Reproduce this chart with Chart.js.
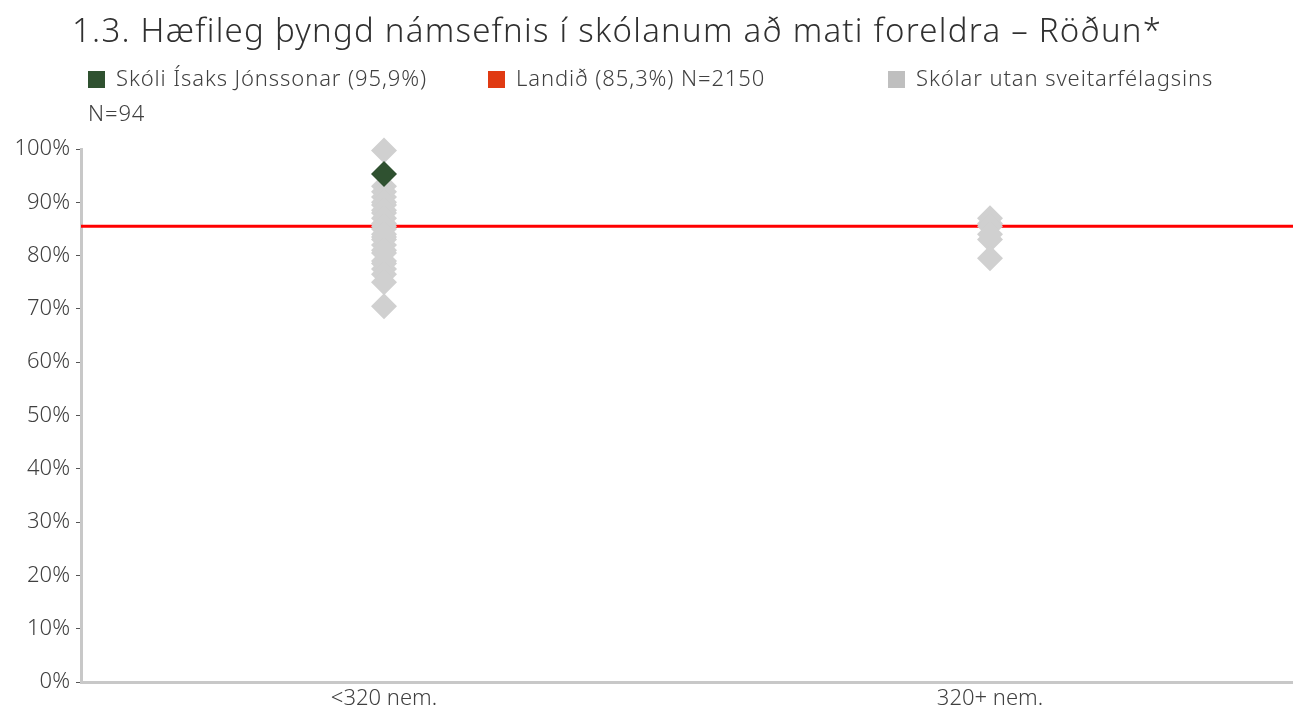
<!DOCTYPE html>
<html lang="is">
  <head>
    <meta charset="UTF-8" />
    <title>Hæfileg þyngd námsefnis</title>
    <script src="https://cdn.jsdelivr.net/npm/chart.js"></script>
    <style>
      body { margin: 0; font-family: "Noto Sans", sans-serif; font-weight: 300; color: #404040; background: #fff; }
      #wrap { position: relative; width: 1293px; height: 708px; overflow: hidden; }
      #title { position: absolute; left: 72px; top: 13px; font-size: 33px; letter-spacing: 1.25px; line-height: 1; color: #303030; white-space: nowrap; }
      .leg { position: absolute; top: 66px; font-size: 22px; letter-spacing: 0.9px; line-height: 1; color: #404040; white-space: nowrap; }
      .leg i { display: inline-block; width: 17px; height: 17px; margin-right: 11px; vertical-align: -2px; }
      #n94 { position: absolute; left: 88px; top: 101px; font-size: 22px; letter-spacing: 0.9px; line-height: 1; color: #404040; }
      canvas { position: absolute; left: 0; top: 0; }
    </style>
  </head>
  <body>
    <div id="wrap">
      <canvas id="chart" width="1293" height="708"></canvas>
      <div id="title">1.3. Hæfileg þyngd námsefnis í skólanum að mati foreldra – Röðun*</div>
      <div class="leg" style="left:88px"><i style="background:#2f5130"></i>Skóli Ísaks Jónssonar (95,9%)</div>
      <div class="leg" style="left:488px"><i style="background:#e03a12"></i>Landið (85,3%) N=2150</div>
      <div class="leg" style="left:888px"><i style="background:#bfbfbf"></i>Skólar utan sveitarfélagsins</div>
      <div id="n94">N=94</div>
    </div>

    <script>
      // categories (x positions 0.5 and 1.5 on a 0..2 axis)
      const categories = ['<320 nem.', '320+ nem.'];

      // Skóli Ísaks Jónssonar
      const schoolCat = 0;
      const schoolValue = 95.3;

      // Landið (national average line)
      const landValue = 85.5;

      // Skólar utan sveitarfélagsins
      const otherSmall = [99.7, 93, 92, 91, 90, 89.5, 88.5, 88, 87, 86, 85.5, 85, 84, 83.5, 83,
                          82, 81, 80.5, 79, 78.5, 77.5, 76.5, 75, 70.5];
      const otherLarge = [87, 86, 85.5, 84, 83, 79.5];

      const yTicks = [0, 10, 20, 30, 40, 50, 60, 70, 80, 90, 100];

      const catX = i => i + 0.5;

      const greyPoints = otherSmall.map(v => ({ x: catX(0), y: v }))
        .concat(otherLarge.map(v => ({ x: catX(1), y: v })));

      const tickFont = { family: 'Noto Sans', size: 22, weight: 300 };

      const ctx = document.getElementById('chart').getContext('2d');
      new Chart(ctx, {
        type: 'scatter',
        data: {
          datasets: [
            {
              label: 'Skóli Ísaks Jónssonar',
              data: [{ x: catX(schoolCat), y: schoolValue }],
              pointStyle: 'rectRot',
              pointRadius: 13,
              backgroundColor: '#2f5130',
              borderColor: '#2f5130',
              borderWidth: 0,
              clip: false,
              order: 0
            },
            {
              label: 'Skólar utan sveitarfélagsins',
              data: greyPoints,
              pointStyle: 'rectRot',
              pointRadius: 13,
              backgroundColor: '#d0d0d0',
              borderColor: '#d0d0d0',
              borderWidth: 0,
              clip: false,
              order: 1
            },
            {
              label: 'Landið',
              type: 'line',
              data: [{ x: 0, y: landValue }, { x: categories.length, y: landValue }],
              borderColor: '#ff0000',
              borderWidth: 3,
              pointRadius: 0,
              order: 2
            }
          ]
        },
        options: {
          responsive: false,
          animation: false,
          layout: { autoPadding: false, padding: { top: 149, right: 0, left: 0, bottom: 0 } },
          plugins: { legend: { display: false }, tooltip: { enabled: false } },
          scales: {
            x: {
              type: 'linear',
              min: 0,
              max: categories.length,
              afterBuildTicks: axis => { axis.ticks = categories.map((c, i) => ({ value: catX(i) })); },
              afterFit: axis => { axis.height = 26; },
              ticks: {
                callback: (v) => categories[Math.round(v - 0.5)],
                font: tickFont,
                color: '#404040',
                padding: 4
              },
              grid: { display: false, drawTicks: false },
              border: { color: '#c8c8c8', width: 3 }
            },
            y: {
              min: 0,
              max: 100,
              afterBuildTicks: axis => { axis.ticks = yTicks.map(v => ({ value: v })); },
              afterFit: axis => { axis.width = 81; },
              ticks: {
                callback: v => v + '%',
                font: tickFont,
                color: '#404040',
                padding: 6
              },
              grid: { drawOnChartArea: false, tickLength: 5, color: '#555555', tickWidth: 1 },
              border: { color: '#c8c8c8', width: 3 }
            }
          }
        }
      });
    </script>
  </body>
</html>
